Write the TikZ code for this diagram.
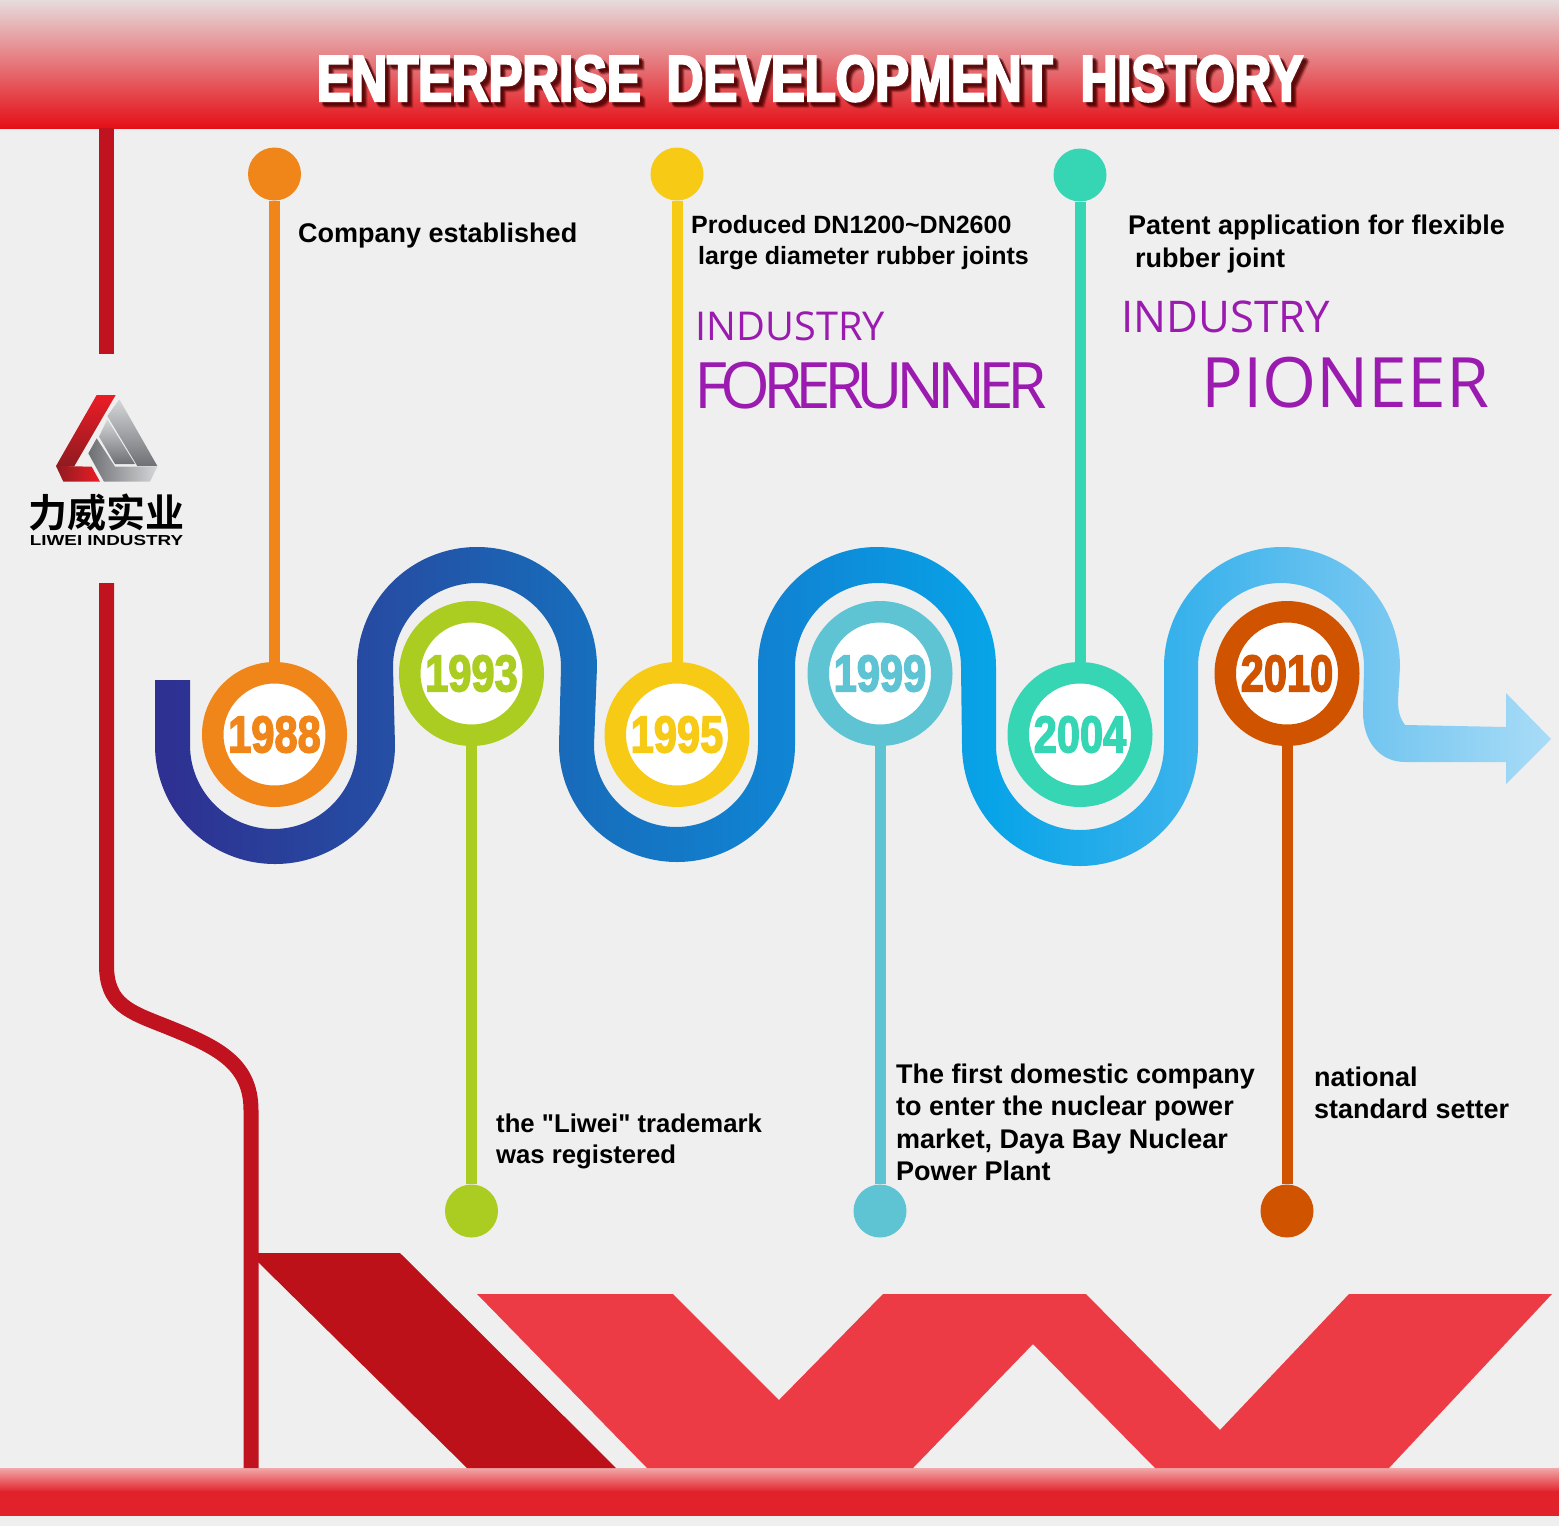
\documentclass[tikz,border=0pt]{standalone}
\usepackage{fontspec}
\setmainfont{Liberation Sans}
\newfontfamily\labelf[UprightFont=* Bold]{Liberation Sans}
\newfontfamily\heavyf[UprightFont=* Bold,FakeStretch=0.8,FakeBold=2.5]{Liberation Sans}
\newfontfamily\titlef[UprightFont=* Bold,FakeStretch=0.78,FakeBold=3.5]{Liberation Sans}
\newfontfamily\purplef{Open Sans}
\newfontfamily\tightf[LetterSpace=-11]{Open Sans}
\newfontfamily\cjkf[UprightFont=* Bold]{Noto Sans CJK SC}
\newfontfamily\logof[UprightFont=* Bold,FakeStretch=1.3]{Liberation Sans}
\definecolor{bg}{HTML}{EFEFEF}
\definecolor{cA}{HTML}{F08519}\definecolor{cB}{HTML}{ABCD22}\definecolor{cC}{HTML}{F7CB15}
\definecolor{cD}{HTML}{5EC4D3}\definecolor{cE}{HTML}{36D6B5}\definecolor{cF}{HTML}{D05400}
\definecolor{redline}{HTML}{C1121F}\definecolor{darkred}{HTML}{BC1118}\definecolor{lightred}{HTML}{EC3B44}
\definecolor{purp}{HTML}{9B1AB0}
\definecolor{b1}{HTML}{2E3192}\definecolor{b2}{HTML}{2450A5}\definecolor{b3}{HTML}{1670BE}\definecolor{b4}{HTML}{0F86D5}
\definecolor{b5}{HTML}{08A4E8}\definecolor{b6}{HTML}{3DB3EC}\definecolor{b7}{HTML}{7CC9F1}\definecolor{b8}{HTML}{A9DCF7}
\definecolor{headB}{HTML}{E50F17}\definecolor{headM}{HTML}{E2606A}\definecolor{headT}{HTML}{E6DCDC}
\definecolor{footT}{HTML}{F0A8A8}\definecolor{footB}{HTML}{E2222B}
\definecolor{logoR}{HTML}{EC1C26}\definecolor{logoD}{HTML}{8E1B20}\definecolor{logoL}{HTML}{D4D6D8}\definecolor{logoG}{HTML}{6E7074}
\pgfdeclarehorizontalshading{bandshade}{100bp}{color(0bp)=(b1);color(25.6bp)=(b1);color(33.8bp)=(b2);color(41bp)=(b3);color(48bp)=(b4);color(55bp)=(b5);color(62.4bp)=(b6);color(69.6bp)=(b7);color(75bp)=(b8);color(100bp)=(b8)}
\tikzset{
  ring/.style={circle,draw=#1,fill=white,line width=21.5pt,minimum size=123.5pt,inner sep=0pt,text=#1,font=\heavyf\fontsize{52}{52}\selectfont},
  dot/.style={circle,fill=#1,minimum size=53pt,inner sep=0pt},
  stem/.style={draw=#1,line width=11pt},
  lab/.style={anchor=base west,inner sep=0pt,text=black,font=\labelf\fontsize{#1}{#1}\selectfont},
  lab/.default=27,
  purple/.style={anchor=base west,inner sep=0pt,text=purp},
  titletxt/.style={anchor=base,inner sep=0pt,font=\titlef\fontsize{65}{65}\selectfont}
}
\newcommand{\titlestr}{ENTERPRISE\hspace{26pt}DEVELOPMENT\hspace{28pt}HISTORY}
\newcommand{\yr}[1]{\raisebox{-2.5pt}{#1}}
\begin{document}
\begin{tikzpicture}[x=1pt,y=1pt,yscale=-1]
\useasboundingbox (0,0) rectangle (1559,1526);
\fill[bg] (0,0) rectangle (1559,1526);
% header
\shade[top color=headT,middle color=headM,bottom color=headB] (0,0) rectangle (1559,128);
% footer
\shade[top color=footT,bottom color=footB] (0,1468) rectangle (1559,1492);
\fill[footB] (0,1491) rectangle (1559,1516);
% left red line
\draw[redline,line width=15pt] (106.5,128) -- (106.5,354);
\draw[redline,line width=15pt] (106.5,583) -- (106.5,965) .. controls (106.5,1005) and (130,1012) .. (165,1026) .. controls (215,1046) and (251,1062) .. (251,1110) -- (251,1468);
% red shapes
\fill[darkred] (258,1253) -- (400,1253) -- (616,1468) -- (467,1468) -- (258,1262) -- cycle;
\fill[lightred] (477,1294) -- (673,1294) -- (779,1400) -- (883,1294) -- (1086,1294) -- (1220,1430) -- (1349,1294) -- (1552,1294) -- (1389,1468) -- (1155,1468) -- (1033,1344) -- (913,1468) -- (647,1468) -- cycle;
% serpentine band
\shade[shading=bandshade] (155,680) -- (155,745)
  arc[start angle=180,end angle=0,x radius=120,y radius=119]
  -- (393,667) arc[start angle=180,end angle=360,x radius=84,y radius=84]
  -- (559,745) arc[start angle=180,end angle=0,x radius=118,y radius=117]
  -- (795,667) arc[start angle=180,end angle=360,x radius=83,y radius=84]
  -- (962,745) arc[start angle=180,end angle=0,x radius=118,y radius=121]
  -- (1198,667) arc[start angle=180,end angle=360,x radius=83,y radius=84]
  -- (1363,712) .. controls (1363,742) and (1380,762) .. (1405,762)
  -- (1506,762) -- (1506,784) -- (1551,739) -- (1506,693) -- (1506,727) -- (1405,725)
  .. controls (1400,718) and (1398,712) .. (1398,700)
  -- (1400,667) arc[start angle=0,end angle=-180,x radius=118,y radius=120]
  -- (1164,745) arc[start angle=0,end angle=180,x radius=84,y radius=85]
  -- (996,667) arc[start angle=0,end angle=-180,x radius=119,y radius=120]
  -- (758,745) arc[start angle=0,end angle=180,x radius=82,y radius=82]
  -- (597,667) arc[start angle=0,end angle=-180,x radius=120,y radius=120]
  -- (357,745) arc[start angle=0,end angle=180,x radius=83.5,y radius=84]
  -- (190,680) -- cycle;
% rings and dots
\node[ring=cA] (r1988) at (274.5,734.5) {\yr{1988}};
\node[ring=cB] (r1993) at (471.5,673.5) {\yr{1993}};
\node[ring=cC] (r1995) at (677,734.5) {\yr{1995}};
\node[ring=cD] (r1999) at (880,673.5) {\yr{1999}};
\node[ring=cE] (r2004) at (1080,734.5) {\yr{2004}};
\node[ring=cF] (r2010) at (1287,673.5) {\yr{2010}};
\node[dot=cA] (d1988) at (274.5,174) {};
\node[dot=cC] (d1995) at (677,174) {};
\node[dot=cE] (d2004) at (1080,175) {};
\node[dot=cB] (d1993) at (471.5,1211) {};
\node[dot=cD] (d1999) at (880,1211) {};
\node[dot=cF] (d2010) at (1287,1211) {};
\draw[stem=cA] (d1988) -- (r1988);
\draw[stem=cC] (d1995) -- (r1995);
\draw[stem=cE] (d2004) -- (r2004);
\draw[stem=cB] (d1993) -- (r1993);
\draw[stem=cD] (d1999) -- (r1999);
\draw[stem=cF] (d2010) -- (r2010);
% labels
\node[lab] (t1) at (298,242) {Company established};
\node[lab=25] (t2) at (691,233) {Produced DN1200\char`~DN2600};
\node[lab=25] (t3) at (698,264) {large diameter rubber joints};
\node[lab] (t4) at (1128,234) {Patent application for flexible};
\node[lab] (t5) at (1135,267) {rubber joint};
\node[lab=25.7] (t6) at (496,1132) {the "Liwei" trademark};
\node[lab=25.7] (t7) at (496,1163) {was registered};
\node[lab] (t8) at (896,1083) {The first domestic company};
\node[lab] (t9) at (896,1115) {to enter the nuclear power};
\node[lab] (t10) at (896,1148) {market, Daya Bay Nuclear};
\node[lab] (t11) at (896,1180) {Power Plant};
\node[lab] (t12) at (1314,1086) {national};
\node[lab] (t13) at (1314,1118) {standard setter};
\node[purple,font=\purplef\fontsize{39.7}{39.7}\selectfont] (p1) at (695.5,340) {INDUSTRY};
\node[purple,font=\tightf\fontsize{64}{64}\selectfont] (p2) at (694,408) {FORERUNNER};
\node[purple,font=\purplef\fontsize{43.7}{43.7}\selectfont] (p3) at (1121,332) {INDUSTRY};
\node[purple,font=\purplef\fontsize{69.5}{69.5}\selectfont] (p4) at (1201,407) {PIONEER};
% title
\foreach \dx/\dy/\op in {6/6/.18,5/4/.3,4/5/.3,3/3/.5}{
  \node[titletxt,text=black!70!red,opacity=\op] at (810+\dx,101+\dy) {\titlestr};
}
\node[titletxt,text=white] (title) at (810,101) {\titlestr};
% logo
\begin{scope}[shift={(0,340)},scale=1/3]
\shade[top color=logoR,bottom color=logoD] (290,165) -- (347,165) -- (222,380) -- (168,378) -- cycle;
\shade[left color=logoD,right color=logoR] (168,378) -- (275,380) -- (300,425) -- (190,425) -- cycle;
\shade[top color=logoL,bottom color=logoG] (322,228) -- (358,178) -- (472,378) -- (412,378) -- cycle;
\shade[top color=logoL,bottom color=logoG] (322,238) -- (405,372) -- (345,372) -- (297,290) -- cycle;
\shade[left color=logoG,right color=logoL] (290,295) -- (345,380) -- (472,380) -- (450,425) -- (312,425) -- (265,340) -- cycle;
\end{scope}
\node[anchor=base,inner sep=0pt,text=black,font=\cjkf\fontsize{39}{39}\selectfont] (logocn) at (106.5,527) {力威实业};
\node[anchor=base,inner sep=0pt,text=black,font=\logof\fontsize{14.5}{14.5}\selectfont] (logoen) at (106.5,545) {LIWEI INDUSTRY};
\end{tikzpicture}
\end{document}
